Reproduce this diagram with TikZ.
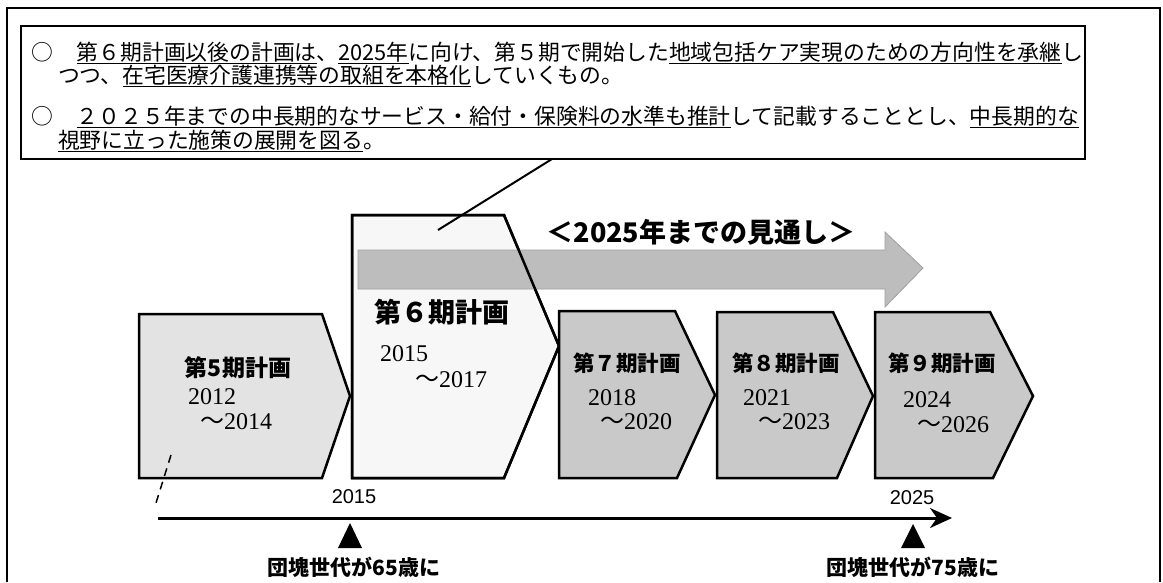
\documentclass[tikz,border=0pt]{standalone}
\usepackage{fontspec}
\setmainfont{Noto Sans CJK JP}
\newfontfamily\serfont{Liberation Serif}
\newfontfamily\lsfont{Liberation Sans}
\usetikzlibrary{arrows.meta}
\newcommand\ulj[1]{\setbox0\hbox{#1}\rlap{\rule[-4pt]{\wd0}{1.3pt}}\box0}
\newcommand\fs[1]{\fontsize{#1}{#1}\selectfont}
\begin{document}
\begin{tikzpicture}[x=1pt,y=-1pt,
  every node/.style={inner sep=0pt, outer sep=0pt},
  plan/.style={draw=black, line width=2.5pt, line join=miter},
  txtline/.style={anchor=west, font=\fs{21.8}},
  ptitle/.style={font=\fs{21.5}\bfseries},
  yr/.style={anchor=west, font=\fs{24}},
  axisyr/.style={font=\fs{20}\lsfont},
  gen/.style={font=\fs{21}\bfseries},
  marker/.style={fill=black},
]
\useasboundingbox (0,0) rectangle (1163,582);
% outer frame
\draw[line width=1.3pt] (7,582) -- (7,8) -- (1160,8) -- (1160,582);
% text box
\node[draw, line width=2.5pt, minimum width=1064pt, minimum height=133pt, anchor=north west] (tb) at (21,26) {};
\node[txtline] (l1) at (31,53) {○\hspace{24pt}\ulj{第６期計画以後の計画は}、\ulj{2025年}に向け、第５期で開始した\ulj{地域包括ケア実現のための方向性を承継}し};
\node[txtline] (l2) at (58,76) {つつ、\ulj{在宅医療介護連携等の取組を本格化}していくもの。};
\node[txtline] (l3) at (31,117) {○\hspace{24pt}\ulj{２０２５年までの中長期的なサービス・給付・保険料の水準も推計}して記載することとし、\ulj{中長期的な}};
\node[txtline] (l4) at (58,141) {\ulj{視野に立った施策の展開を図る}。};
% plan boxes 5 and 6
\draw[plan, fill=gray!22] (139,314) -- (322,314) -- (350,396) -- (322,478) -- (139,478) -- cycle;
\draw[plan, fill=gray!6] (352,215) -- (504,215) -- (559,346) -- (504,478) -- (352,478) -- cycle;
% outlook band arrow
\draw[draw=gray!75, line width=0.8pt, fill=gray!52] (358,250) -- (885,250) -- (885,232) -- (923,268) -- (885,307) -- (885,289) -- (358,289) -- cycle;
\draw[plan] (352,215) -- (504,215) -- (559,346) -- (504,478) -- (352,478) -- cycle;
% plan boxes 7-9
\draw[plan, fill=gray!42] (559,311) -- (675,311) -- (715,395) -- (677,478) -- (559,478) -- cycle;
\draw[plan, fill=gray!42] (717,312) -- (833,312) -- (873,396) -- (837,478) -- (717,478) -- cycle;
\draw[plan, fill=gray!42] (875,312) -- (990,312) -- (1033,396) -- (993,478) -- (875,478) -- cycle;
% outlook title
\node[font=\fs{27}\bfseries] (ttl) at (701,232) {＜2025年までの見通し＞};
% box texts
\node[font=\fs{23}\bfseries] (t5) at (238,368) {第5期計画};
\node[yr] (y5a) at (188,397) {{\serfont 2012}};
\node[yr] (y5b) at (200,422) {～{\serfont 2014}};
\node[font=\fs{27}\bfseries] (t6) at (442,312) {第６期計画};
\node[yr] (y6a) at (380,354) {{\serfont 2015}};
\node[yr] (y6b) at (415,380) {～{\serfont 2017}};
\node[ptitle] (t7) at (627,363) {第７期計画};
\node[yr] (y7a) at (588,398) {{\serfont 2018}};
\node[yr] (y7b) at (600,422) {～{\serfont 2020}};
\node[ptitle] (t8) at (786,363) {第８期計画};
\node[yr] (y8a) at (743,398) {{\serfont 2021}};
\node[yr] (y8b) at (758,422) {～{\serfont 2023}};
\node[ptitle] (t9) at (942,363) {第９期計画};
\node[yr] (y9a) at (903,400) {{\serfont 2024}};
\node[yr] (y9b) at (917,425) {～{\serfont 2026}};
% pointer from text box to 6th plan
\coordinate (p1) at (552,159);
\coordinate (p2) at (438,230);
\draw[line width=2pt] (p1) -- (p2);
% stray dashed mark
\coordinate (d1) at (171,455);
\coordinate (d2) at (156,503);
\draw[line width=1.5pt, dash pattern=on 8pt off 6pt] (d1) -- (d2);
% timeline
\coordinate (tl0) at (158,518);
\coordinate (tl1) at (952,518);
\draw[line width=3pt, -{Stealth[length=22pt,width=20pt,inset=7pt]}] (tl0) -- (tl1);
\node[axisyr] (a15) at (354,497) {2015};
\node[axisyr] (a25) at (912,498) {2025};
\fill[marker] (338,548) -- (350,523) -- (362,548) -- cycle;
\fill[marker] (901,548) -- (913,524) -- (925,548) -- cycle;
\node[gen] (g65) at (354,567) {団塊世代が65歳に};
\node[gen] (g75) at (913,567) {団塊世代が75歳に};
\end{tikzpicture}
\end{document}
